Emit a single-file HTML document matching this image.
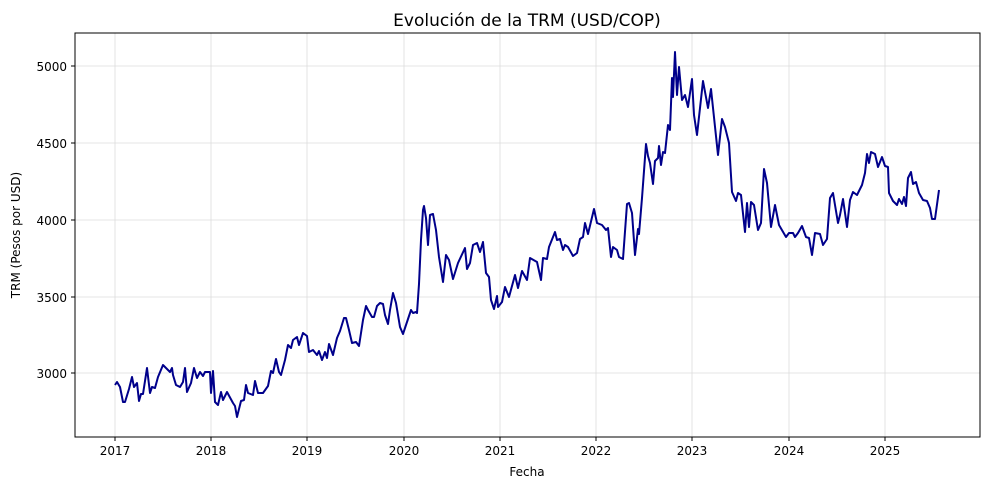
<!DOCTYPE html>
<html><head><meta charset="utf-8"><style>
body{margin:0;background:#fff;}
svg text{font-family:"DejaVu Sans","Liberation Sans",sans-serif;}
</style></head><body>
<svg width="989" height="490" viewBox="0 0 989 490" xmlns="http://www.w3.org/2000/svg">
<rect width="989" height="490" fill="#fff"/>
<g stroke="#dcdcdc" stroke-width="0.8">
<line x1="115" y1="33" x2="115" y2="437"/><line x1="211" y1="33" x2="211" y2="437"/><line x1="307" y1="33" x2="307" y2="437"/><line x1="404" y1="33" x2="404" y2="437"/><line x1="500" y1="33" x2="500" y2="437"/><line x1="596" y1="33" x2="596" y2="437"/><line x1="692" y1="33" x2="692" y2="437"/><line x1="789" y1="33" x2="789" y2="437"/><line x1="885" y1="33" x2="885" y2="437"/>
<line x1="75" y1="66" x2="980" y2="66"/><line x1="75" y1="143" x2="980" y2="143"/><line x1="75" y1="220" x2="980" y2="220"/><line x1="75" y1="297" x2="980" y2="297"/><line x1="75" y1="373" x2="980" y2="373"/>
</g>
<polyline fill="none" stroke="#00008b" stroke-width="2" stroke-linejoin="round" points="115,385 117,382 120,387 123,402 125,402 129,389 132,377 134,387 137,383 139,401 141,394 143,394 147,368 150,393 152,387 155,388 158,377 163,365 167,369 170,372 172,368 173,375 176,385 180,387 183,382 185,368 187,392 191,383 194,368 197,378 200,372 203,376 205,372 210,372 211,393 213,371 215,402 218,405 221,392 223,400 227,392 233,403 235,406 237,417 241,401 244,400 246,385 248,393 253,395 255,381 258,393 263,393 268,386 271,371 273,373 276,359 279,372 281,375 285,360 288,345 291,348 293,340 297,337 299,345 303,333 307,336 309,352 313,350 317,355 319,351 322,360 325,352 327,358 329,344 333,355 337,338 340,331 344,318 346,318 349,330 352,343 356,342 359,346 363,320 366,306 368,310 372,317 374,317 377,306 380,303 383,304 385,315 388,324 390,310 393,293 396,303 400,327 403,334 407,322 411,310 413,313 416,312 417,313 419,284 421,240 423,210 424,206 426,218 428,245 430,215 433,214 436,230 439,257 443,282 446,255 449,260 453,279 458,263 465,248 467,269 470,263 473,245 477,243 480,252 483,242 486,273 489,277 491,300 494,309 497,296 498,307 502,302 505,287 509,297 515,275 518,288 522,271 527,280 530,258 537,262 541,280 543,258 547,259 549,247 553,237 555,232 557,240 560,239 563,250 565,245 568,247 573,256 577,253 580,239 583,237 585,223 588,234 594,209 597,223 602,225 606,230 608,228 611,257 613,247 617,250 619,257 623,259 627,204 629,203 632,213 635,255 638,229 639,234 642,198 646,144 648,156 650,163 653,184 655,161 658,158 659,146 661,165 663,152 665,153 668,125 670,130 672,78 673,97 675,52 677,95 679,67 682,100 685,95 688,107 692,79 694,115 697,135 703,81 708,108 711,89 718,155 722,119 725,127 729,143 732,192 736,201 738,193 741,195 745,232 747,203 749,227 751,202 754,205 758,230 761,223 764,169 767,183 771,227 775,205 779,225 786,237 789,233 793,233 795,237 798,233 802,226 806,237 809,238 812,255 815,233 820,234 823,245 827,239 830,198 833,193 838,223 840,215 843,199 847,227 850,200 853,192 857,195 862,185 865,173 867,154 869,163 871,152 875,154 878,167 882,157 885,166 888,167 889,193 893,201 897,205 899,199 902,204 904,197 906,206 908,178 911,172 913,184 916,182 919,193 923,200 927,201 930,208 932,219 935,219 939,190"/>
<rect x="75" y="33" width="905" height="404" fill="none" stroke="#000" stroke-width="1"/>
<g stroke="#000" stroke-width="1">
<line x1="115" y1="437" x2="115" y2="441"/><line x1="211" y1="437" x2="211" y2="441"/><line x1="307" y1="437" x2="307" y2="441"/><line x1="404" y1="437" x2="404" y2="441"/><line x1="500" y1="437" x2="500" y2="441"/><line x1="596" y1="437" x2="596" y2="441"/><line x1="692" y1="437" x2="692" y2="441"/><line x1="789" y1="437" x2="789" y2="441"/><line x1="885" y1="437" x2="885" y2="441"/>
<line x1="71" y1="66" x2="75" y2="66"/><line x1="71" y1="143" x2="75" y2="143"/><line x1="71" y1="220" x2="75" y2="220"/><line x1="71" y1="297" x2="75" y2="297"/><line x1="71" y1="373" x2="75" y2="373"/>
</g>
<g font-size="12" text-anchor="middle" fill="#000">
<text x="115" y="455">2017</text><text x="211" y="455">2018</text><text x="307" y="455">2019</text><text x="404" y="455">2020</text><text x="500" y="455">2021</text><text x="596" y="455">2022</text><text x="692" y="455">2023</text><text x="789" y="455">2024</text><text x="885" y="455">2025</text>
</g>
<g font-size="12" text-anchor="end" fill="#000">
<text x="67" y="71">5000</text><text x="67" y="148">4500</text><text x="67" y="225">4000</text><text x="67" y="302">3500</text><text x="67" y="378">3000</text>
</g>
<text x="527" y="476" font-size="12" text-anchor="middle">Fecha</text>
<text transform="translate(20,235) rotate(-90)" font-size="12" text-anchor="middle">TRM (Pesos por USD)</text>
<text x="527" y="26" font-size="17" text-anchor="middle">Evolución de la TRM (USD/COP)</text>
</svg>
</body></html>
